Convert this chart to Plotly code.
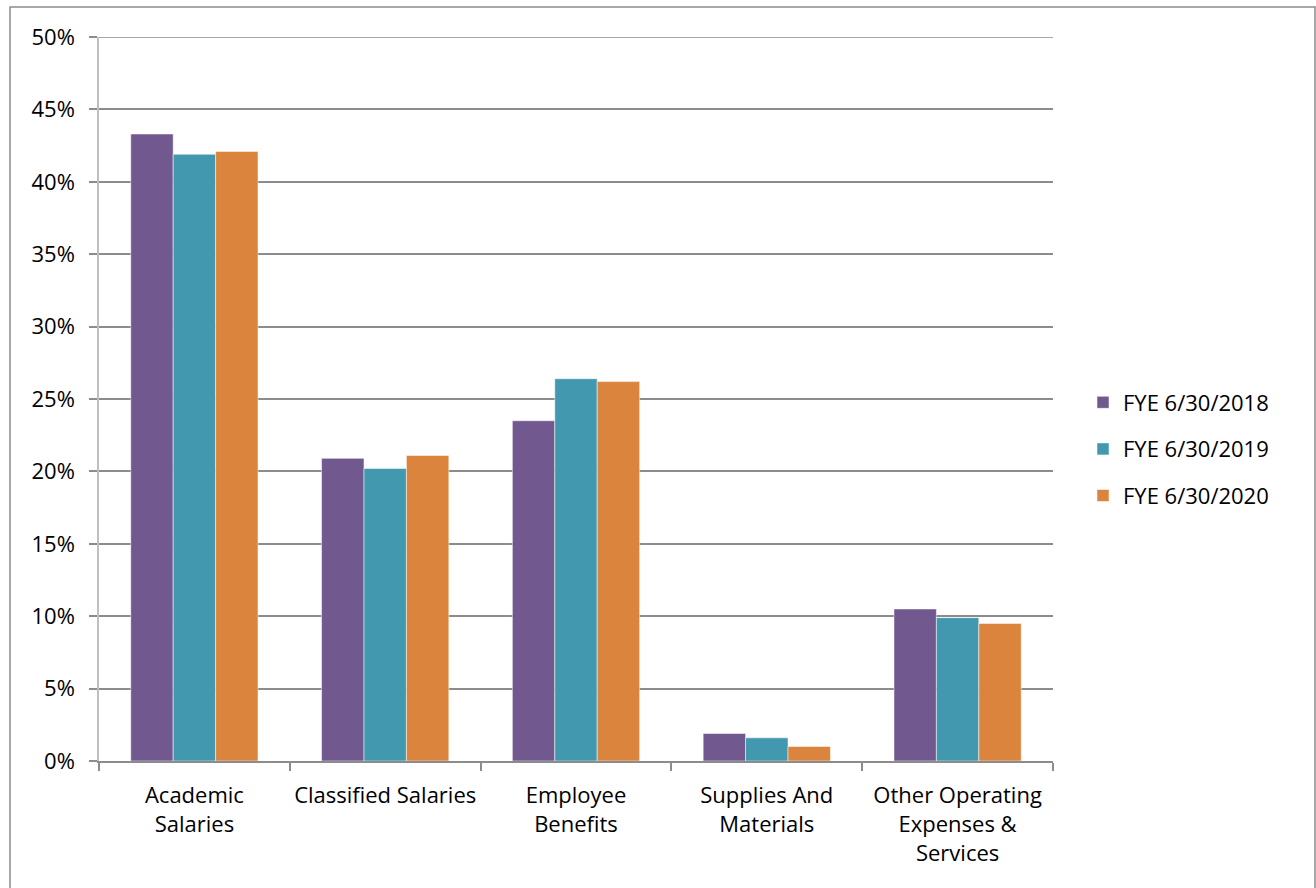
import plotly.graph_objects as go

categories = ["Academic<br>Salaries", "Classified Salaries", "Employee<br>Benefits",
              "Supplies And<br>Materials", "Other Operating<br>Expenses &<br>Services"]
series_names = ["FYE 6/30/2018", "FYE 6/30/2019", "FYE 6/30/2020"]
fye_2018 = [43.3, 20.9, 23.5, 1.9, 10.5]
fye_2019 = [41.9, 20.2, 26.4, 1.6, 9.9]
fye_2020 = [42.1, 21.1, 26.2, 1.0, 9.5]
y_ticks = [0, 5, 10, 15, 20, 25, 30, 35, 40, 45, 50]
y_tick_labels = [f"{v}%" for v in y_ticks]

colors = ["#71588F", "#4198AF", "#DB843D"]
W, H = 1316, 888
ML, MR, MT, MB = 99, 263, 37, 127
PW, PH = W - ML - MR, H - MT - MB

fig = go.Figure()
for i, (name, vals) in enumerate(zip(series_names, [fye_2018, fye_2019, fye_2020])):
    fig.add_trace(go.Bar(
        x=categories, y=vals, name=name, legendgroup=name,
        marker=dict(color=colors[i], line=dict(color="rgba(255,255,255,0.5)", width=1)),
    ))

def px_x(p):
    return (p - ML) / PW

def px_y(p):
    return 1 - (p - MT) / PH

font = "Open Sans"
FS = 22
fig.update_layout(
    width=W, height=H,
    margin=dict(l=ML, r=MR, t=MT, b=MB, autoexpand=False),
    paper_bgcolor="white", plot_bgcolor="white",
    barmode="group", bargap=0.333, bargroupgap=0,
    font=dict(family=font, size=FS, color="#000000"),
    legend=dict(x=px_x(1083), y=px_y(449), xanchor="left", yanchor="middle",
                font=dict(family=font, size=FS, color="#000000"),
                tracegroupgap=15, bgcolor="rgba(0,0,0,0)"),
    showlegend=True,
    shapes=[
        dict(type="rect", xref="paper", yref="paper",
             x0=px_x(10), x1=px_x(1315), y0=px_y(900), y1=px_y(7),
             line=dict(color="#8c8c8c", width=1.5), fillcolor="rgba(0,0,0,0)", layer="below"),
        dict(type="line", xref="paper", yref="y", x0=0, x1=1, y0=y_ticks[-1], y1=y_ticks[-1],
             line=dict(color="#8c8c8c", width=1.5), layer="below"),
    ],
)
fig.update_xaxes(
    showgrid=False, showline=True, linecolor="#8c8c8c", linewidth=2,
    ticks="outside", tickson="boundaries", ticklen=8, tickcolor="#8c8c8c", tickwidth=2,
    tickangle=0, automargin=False,
    tickfont=dict(family=font, size=FS, color="#000000"), ticklabelstandoff=14,
)
fig.update_yaxes(
    range=[0, 50], tickvals=y_ticks, ticktext=y_tick_labels, automargin=False,
    showgrid=True, gridcolor="#8c8c8c", gridwidth=1.5,
    showline=True, linecolor="#bfbfbf", linewidth=1.5,
    ticks="outside", ticklen=8, tickcolor="#8c8c8c", tickwidth=1.5,
    tickfont=dict(family=font, size=FS, color="#000000"), ticklabelstandoff=10,
    zeroline=False,
)

fig.write_html("out.html")
